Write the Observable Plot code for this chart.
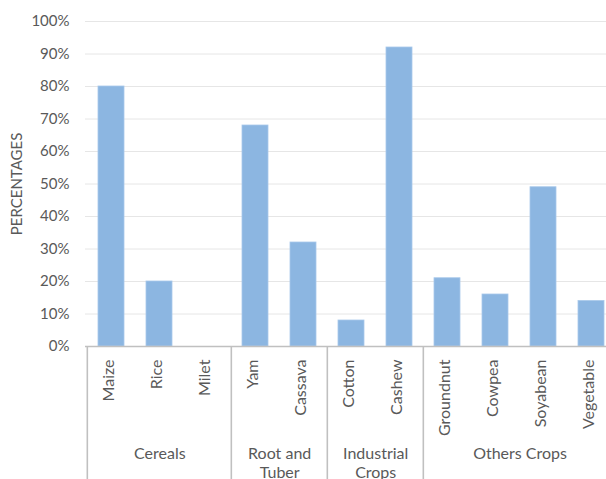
<!DOCTYPE html>
<html>
<head>
<meta charset="utf-8">
<script src="https://cdn.jsdelivr.net/npm/d3@7"></script>
<script src="https://cdn.jsdelivr.net/npm/@observablehq/plot@0.6"></script>
<style>
  html, body { margin: 0; padding: 0; background: white; overflow: hidden; }
</style>
</head>
<body>
<div id="chart"></div>
<script>
const crops = ["Maize", "Rice", "Milet", "Yam", "Cassava", "Cotton", "Cashew", "Groundnut", "Cowpea", "Soyabean", "Vegetable"];
const values = [0.80, 0.20, 0.00, 0.68, 0.32, 0.08, 0.92, 0.21, 0.16, 0.49, 0.14];
const groupNames = ["Cereals", "Root and\nTuber", "Industrial\nCrops", "Others Crops"];
const groupSizes = [3, 2, 2, 4];
const yTicks = [0, 0.1, 0.2, 0.3, 0.4, 0.5, 0.6, 0.7, 0.8, 0.9, 1.0];
const yLabel = "PERCENTAGES";

const W = 606, H = 479;
const xRange = [85, 617];
const step = (xRange[1] - xRange[0]) / crops.length;
const textColor = "#595959";
const font = "Lato, 'Open Sans', sans-serif";

const bars = crops.map((c, i) => ({crop: c, value: values[i]}));
let idx = 0;
const groups = groupNames.map((g, i) => {
  const first = crops[idx];
  const n = groupSizes[i];
  idx += n;
  return {name: g, first, n};
});

const groupLabelMarks = groups.map(g =>
  Plot.text([g], {x: "first", dx: (g.n - 1) * step / 2, text: "name", frameAnchor: "bottom", lineAnchor: "top", dy: 99, lineHeight: 1.2, fill: textColor, fontSize: 16})
);

const plot = Plot.plot({
  width: W,
  height: H,
  marginLeft: 85,
  marginRight: 0,
  marginTop: 21,
  marginBottom: 133,
  style: {fontFamily: font, fontSize: "15px", color: textColor, background: "white"},
  x: {domain: crops, range: xRange, paddingInner: 0.46, paddingOuter: 0.23, align: 0.5, axis: null},
  y: {domain: [0, 1], axis: null},
  marks: [
    Plot.gridY(yTicks, {stroke: "#e6e6e6", strokeOpacity: 1, strokeWidth: 1}),
    Plot.barY(bars, {x: "crop", y: "value", fill: "#8cb6e1", stroke: "#a9c9ea", strokeWidth: 0.8}),
    Plot.ruleY([0], {stroke: "#c0c0c0", strokeWidth: 1.6}),
    Plot.ruleX(groups, {x: "first", dx: -step / 2, stroke: "#c0c0c0", strokeWidth: 1.6, insetTop: 325, insetBottom: -140}),
    Plot.axisY(yTicks, {tickFormat: d3.format(".0%"), tickSize: 0, tickPadding: 16, label: null, fill: textColor, fontSize: 15}),
    Plot.text(crops, {x: d => d, text: d => d, frameAnchor: "bottom", rotate: -90, textAnchor: "end", dx: 2, dy: 13, fill: textColor, fontSize: 16}),
    ...groupLabelMarks,
    Plot.text([yLabel], {text: d => d, frameAnchor: "left", textAnchor: "middle", dx: -68, rotate: -90, fill: textColor, fontSize: 15})
  ]
});
document.getElementById("chart").appendChild(plot);
</script>
</body>
</html>
